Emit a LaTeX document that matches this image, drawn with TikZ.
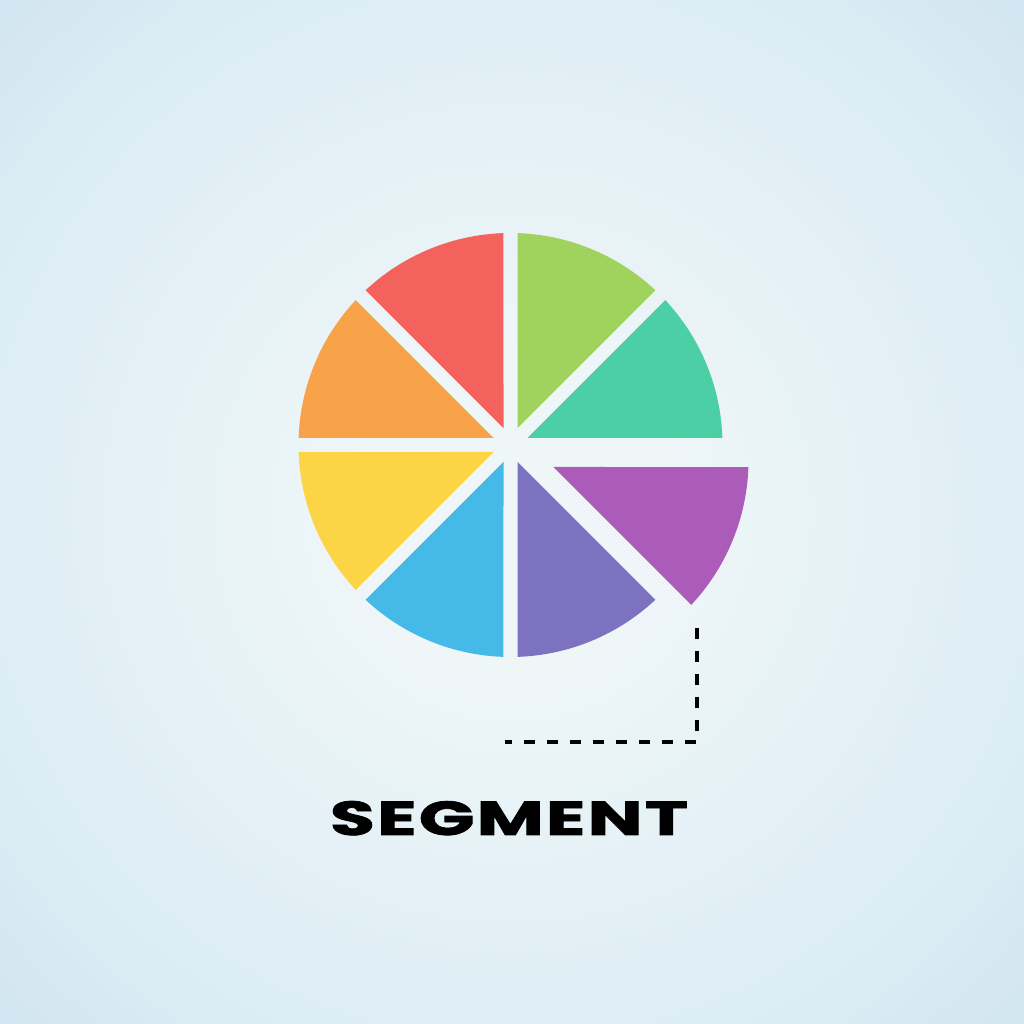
\documentclass[tikz,border=0pt]{standalone}
\usepackage{fontspec}
\newfontfamily\titlefont{Poppins}[LetterSpace=3,FakeBold=1.5]
\usetikzlibrary{calc}

\definecolor{bgin}{HTML}{EFF6F8}
\definecolor{bgnear}{HTML}{DCEDF4}
\definecolor{bgmid}{HTML}{D2E6F1}
\definecolor{bgout}{HTML}{BCDBEC}
\definecolor{segteal}{HTML}{4DCFA6}
\definecolor{seggreen}{HTML}{A0D25E}
\definecolor{segred}{HTML}{F3625D}
\definecolor{segorange}{HTML}{F8A249}
\definecolor{segyellow}{HTML}{FBD545}
\definecolor{segblue}{HTML}{45B9E8}
\definecolor{segindigo}{HTML}{7C72C0}
\definecolor{segplum}{HTML}{AD5BB8}
\pgfdeclareradialshading{bgglow}{\pgfpoint{0bp}{0bp}}{color(0bp)=(bgin);
  color(7bp)=(bgin);color(27bp)=(bgnear);color(35bp)=(bgmid);color(50bp)=(bgout)}

\begin{document}
\begin{tikzpicture}[x=.1mm,y=.1mm,
  leader/.style={draw=black,line width=.4mm,dash pattern=on 1.1mm off 1.2mm},
  title/.style={font=\titlefont\bfseries,text=black,inner sep=0pt}]
\useasboundingbox (0,0) rectangle (1024,1024);

% background glow
\shade[shading=bgglow] (0,0) rectangle (1024,1024);

% pie: eight slices with a narrow gap, the last one pulled out
\coordinate (pie) at (510.5,579);
\foreach \a/\col/\dx/\dy in {0/segteal/0/0,45/seggreen/0/0,90/segred/0/0,
  135/segorange/0/0,180/segyellow/0/0,225/segblue/0/0,270/segindigo/0/0,
  315/segplum/26/-15}{
  \begin{scope}[shift={($(pie)+(\dx,\dy)$)}]
    \fill[\col] (\a+22.5:18.3) -- (\a+1.9:212)
      arc[start angle=\a+1.9,end angle=\a+43.1,radius=212] -- cycle;
  \end{scope}
}

% leader from the pulled slice down to the label
\coordinate (leadtop) at (697,396);
\coordinate (leadend) at (505,282);
\draw[leader] (leadtop) |- (leadend);

\node[title,anchor=base] (label) at (509,189)
  {\resizebox{35.8mm}{3.4mm}{SEGMENT}};
\end{tikzpicture}
\end{document}
